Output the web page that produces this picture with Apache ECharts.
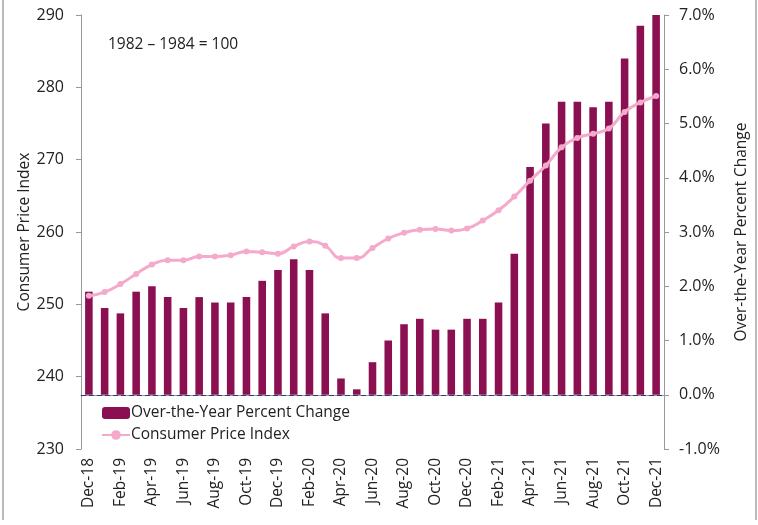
<!DOCTYPE html>
<html>
<head>
<meta charset="utf-8">
<script src="https://cdn.jsdelivr.net/npm/echarts@6/dist/echarts.min.js"></script>
<style>
  html, body { margin: 0; padding: 0; background: #fff; }
  #chart { width: 758px; height: 525px; }
</style>
</head>
<body>
<div id="chart"></div>
<script>
const months = [
  'Dec-18', 'Jan-19', 'Feb-19', 'Mar-19', 'Apr-19', 'May-19', 'Jun-19', 'Jul-19', 'Aug-19', 'Sep-19', 'Oct-19', 'Nov-19',
  'Dec-19', 'Jan-20', 'Feb-20', 'Mar-20', 'Apr-20', 'May-20', 'Jun-20', 'Jul-20', 'Aug-20', 'Sep-20', 'Oct-20', 'Nov-20',
  'Dec-20', 'Jan-21', 'Feb-21', 'Mar-21', 'Apr-21', 'May-21', 'Jun-21', 'Jul-21', 'Aug-21', 'Sep-21', 'Oct-21', 'Nov-21',
  'Dec-21'
]
const pctChange = [
  1.9, 1.6, 1.5, 1.9, 2.0, 1.8, 1.6, 1.8, 1.7, 1.7, 1.8, 2.1,
  2.3, 2.5, 2.3, 1.5, 0.3, 0.1, 0.6, 1.0, 1.3, 1.4, 1.2, 1.2,
  1.4, 1.4, 1.7, 2.6, 4.2, 5.0, 5.4, 5.4, 5.3, 5.4, 6.2, 6.8,
  7.0
]
const cpi = [
  251.2, 251.7, 252.8, 254.2, 255.5, 256.1, 256.1, 256.6, 256.6, 256.8, 257.3, 257.2,
  257.0, 258.0, 258.7, 258.1, 256.4, 256.4, 257.8, 259.1, 259.9, 260.3, 260.4, 260.2,
  260.5, 261.6, 263.0, 264.9, 267.1, 269.2, 271.7, 273.0, 273.6, 274.3, 276.6, 277.9,
  278.8
]

const font = 'Open Sans'
const textColor = '#222'
const axisColor = '#999'

const chart = echarts.init(document.getElementById('chart'))
chart.setOption({
  animation: false,
  textStyle: { fontFamily: font },
  grid: { left: 81, right: 93, top: 15, bottom: 76 },
  legend: {
    orient: 'vertical',
    left: 96,
    top: 400,
    itemWidth: 28,
    itemHeight: 12,
    itemGap: 6,
    selectedMode: false,
    textStyle: { fontFamily: font, fontSize: 15.5, color: textColor, padding: [0, 0, 0, -4] },
    data: ['Over-the-Year Percent Change', 'Consumer Price Index']
  },
  graphic: [
    {
      type: 'text', left: 108, top: 37,
      style: { text: '1982 \u2013 1984 = 100', font: '15.5px "Open Sans"', fill: textColor }
    },
    { type: 'line', shape: { x1: 3, y1: 0, x2: 3, y2: 520 }, style: { stroke: '#777', lineWidth: 1 } },
    { type: 'line', shape: { x1: 756, y1: 0, x2: 756, y2: 520 }, style: { stroke: '#777', lineWidth: 1 } }
  ],
  xAxis: {
    type: 'category',
    data: months,
    boundaryGap: true,
    axisLine: { lineStyle: { color: axisColor } },
    axisTick: { interval: 1, length: 5, lineStyle: { color: axisColor } },
    axisLabel: { interval: 1, rotate: 90, fontSize: 15.5, color: textColor, margin: 9 }
  },
  yAxis: [
    {
      type: 'value',
      min: 230, max: 290, interval: 10,
      name: 'Consumer Price Index',
      nameLocation: 'middle',
      nameGap: 48,
      nameMoveOverlap: false,
      nameTextStyle: { fontSize: 15.5, color: textColor },
      splitLine: { show: false },
      axisLine: { show: true, lineStyle: { color: axisColor } },
      axisTick: { show: true, length: 5, lineStyle: { color: axisColor } },
      axisLabel: { fontSize: 16, color: textColor, margin: 17 }
    },
    {
      type: 'value',
      min: -1, max: 7, interval: 1,
      name: 'Over-the-Year Percent Change',
      nameLocation: 'middle',
      nameGap: 70,
      nameRotate: 90,
      nameMoveOverlap: false,
      nameTextStyle: { fontSize: 15.5, color: textColor },
      splitLine: { show: false },
      axisLine: { show: true, lineStyle: { color: axisColor } },
      axisTick: { show: true, length: 5, lineStyle: { color: axisColor } },
      axisLabel: { fontSize: 16, color: textColor, margin: 15, formatter: v => v.toFixed(1) + '%' }
    }
  ],
  series: [
    {
      name: 'Over-the-Year Percent Change',
      type: 'bar',
      yAxisIndex: 1,
      data: pctChange,
      barWidth: '48%',
      itemStyle: { color: '#8B1052' },
      markLine: {
        silent: true,
        symbol: 'none',
        label: { show: false },
        lineStyle: { color: '#1F3F7A', type: [5, 3], width: 1 },
        data: [{ yAxis: 0 }]
      }
    },
    {
      name: 'Consumer Price Index',
      type: 'line',
      yAxisIndex: 0,
      data: cpi,
      smooth: true,
      symbol: 'circle',
      symbolSize: 6,
      lineStyle: { color: '#F5A9CB', width: 3 },
      itemStyle: { color: '#F5A9CB' },
      z: 3
    }
  ]
})
</script>
</body>
</html>
